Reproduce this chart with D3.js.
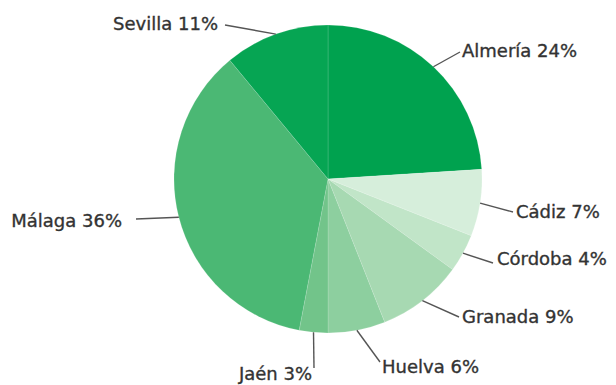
<!DOCTYPE html>
<html>
<head>
<meta charset="utf-8">
<script src="https://cdn.jsdelivr.net/npm/d3@7"></script>
<style>
  html, body { margin: 0; padding: 0; background: #ffffff; }
  svg { display: block; }
  text { font-family: "DejaVu Sans", Verdana, sans-serif; fill: #333; stroke: #333; stroke-width: 0.35px; }
</style>
</head>
<body>
<svg id="chart" width="616" height="385"></svg>
<script>
// Share of each province (percent), clockwise from 12 o'clock
const provinces = ["Almería", "Cádiz", "Córdoba", "Granada", "Huelva", "Jaén", "Málaga", "Sevilla"];
const shares    = [24, 7, 4, 9, 6, 3, 36, 11];
const colors    = ["#00a24f", "#d6eedb", "#c1e5c8", "#a7d9b2", "#8dcf9f", "#72c48a", "#4bb874", "#06a553"];

// Label placement: where each leader line ends and where its text sits
const labelLayout = {
  "Almería": { lx: 460, ly: 52,  tx: 462, ty: 57,  anchor: "start" },
  "Cádiz":   { lx: 513, ly: 212, tx: 516, ty: 218, anchor: "start" },
  "Córdoba": { lx: 493, ly: 263, tx: 497, ty: 265, anchor: "start" },
  "Granada": { lx: 459, ly: 317, tx: 462, ty: 323, anchor: "start" },
  "Huelva":  { lx: 380, ly: 362, tx: 382, ty: 373, anchor: "start" },
  "Jaén":    { lx: 314, ly: 368, tx: 312, ty: 380, anchor: "end" },
  "Málaga":  { lx: 136, ly: 219, tx: 122, ty: 227, anchor: "end" },
  "Sevilla": { lx: 225, ly: 25,  tx: 218, ty: 30,  anchor: "end" }
};

const cx = 328, cy = 179, radius = 154;

const data = provinces.map((name, i) => ({ name, value: shares[i], color: colors[i] }));

const svg = d3.select("#chart");
const g = svg.append("g").attr("transform", `translate(${cx},${cy})`);

const pie = d3.pie().value(d => d.value).sort(null);
const arc = d3.arc().innerRadius(0).outerRadius(radius);
const arcs = pie(data);

g.selectAll("path.slice")
  .data(arcs)
  .join("path")
  .attr("class", "slice")
  .attr("d", arc)
  .attr("fill", d => d.data.color)
  .attr("stroke", "rgba(255,255,255,0.18)")
  .attr("stroke-width", 0.8);

// Leader lines from the rim at each slice's mid angle out to its label
const rim = d3.arc().innerRadius(radius).outerRadius(radius);
svg.append("g").selectAll("line")
  .data(arcs)
  .join("line")
  .attr("x1", d => cx + rim.centroid(d)[0])
  .attr("y1", d => cy + rim.centroid(d)[1])
  .attr("x2", d => labelLayout[d.data.name].lx)
  .attr("y2", d => labelLayout[d.data.name].ly)
  .attr("stroke", "#555")
  .attr("stroke-width", 1.4);

svg.append("g").selectAll("text")
  .data(arcs)
  .join("text")
  .attr("x", d => labelLayout[d.data.name].tx)
  .attr("y", d => labelLayout[d.data.name].ty)
  .attr("text-anchor", d => labelLayout[d.data.name].anchor)
  .attr("font-size", 18)
  .text(d => `${d.data.name} ${d.data.value}%`);
</script>
</body>
</html>
